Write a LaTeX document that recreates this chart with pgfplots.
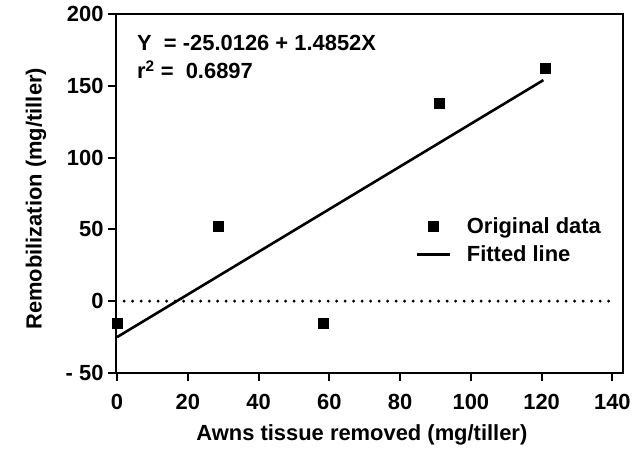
\documentclass[border=0pt]{standalone}
\usepackage{fontspec}
\setmainfont{Liberation Sans}
\usepackage{pgfplots}
\pgfplotsset{compat=1.18}

\newcommand{\chartfont}{\fontsize{22}{26}\selectfont\bfseries}

\pgfplotsset{
  markleg/.style={legend image code/.code={%
    \draw[##1] plot coordinates {(16.5bp,0bp)};}},
  lineleg/.style={legend image code/.code={%
    \draw[##1] (0bp,0bp) -- (33bp,0bp);}},
}

\begin{document}
\begin{tikzpicture}
\begin{axis}[
  name=ax,
  at={(0,0)}, anchor=south west,
  scale only axis,
  width=507bp, height=359bp,
  xmin=-0.3, xmax=143,
  ymin=-50, ymax=200,
  axis line style={line width=2.2bp},
  xtick={0,20,40,60,80,100,120,140},
  ytick={-50,0,50,100,150,200},
  yticklabels={{- 50},0,50,100,150,200},
  tick align=outside,
  xtick pos=bottom, ytick pos=left,
  major tick length=8bp,
  tick style={line width=2bp, black},
  /pgf/number format/assume math mode=true,
  every tick label/.append style={font=\chartfont},
  xticklabel style={yshift=-10bp},
  yticklabel style={xshift=-1bp},
  xlabel={Awns tissue removed (mg/tiller)},
  ylabel={Remobilization (mg/tiller)},
  label style={font=\chartfont},
  xlabel style={at={(axis description cs:0.485,-0.172)}, anchor=center},
  ylabel style={at={(axis description cs:-0.158,0.485)}, anchor=center},
  clip=false,
  legend cell align=left,
  legend style={
    at={(rel axis cs:0.59,0.44)}, anchor=north west,
    draw=none, fill=none, inner sep=0pt,
    font=\chartfont,
    row sep=7bp,
  },
]
% zero reference line
\addplot[forget plot, line width=3.2bp, line cap=round,
         dash pattern=on 0bp off 8.5bp]
  coordinates {(2,0) (140,0)};

% measured remobilization values
\addplot[only marks, mark=square*, mark size=5bp, black, markleg]
  coordinates {
    (0,-15)
    (28.7,52)
    (58.2,-15)
    (91,138)
    (121,162)
  };
\addlegendentry{\hspace{14bp}Original data}

% least-squares fit Y = -25.0126 + 1.4852X
\addplot[black, line width=2.6bp, lineleg]
  coordinates {(0,-25.0126) (120.5,153.9540)};
\addlegendentry{\hspace{14bp}Fitted line}

\node[anchor=west, inner sep=0pt, font=\chartfont]
  at ([xshift=21bp, yshift=-29bp]rel axis cs:0,1)
  {Y\ \ = -25.0126 + 1.4852X};
\node[anchor=west, inner sep=0pt, font=\chartfont]
  at ([xshift=21bp, yshift=-56bp]rel axis cs:0,1)
  {r\textsuperscript{2} = \ 0.6897};
\end{axis}
\pgfresetboundingbox
\path[use as bounding box] (ax.south west) ++(-116bp,-78bp) rectangle ([xshift=15bp,yshift=14bp]ax.north east);
\end{tikzpicture}
\end{document}
